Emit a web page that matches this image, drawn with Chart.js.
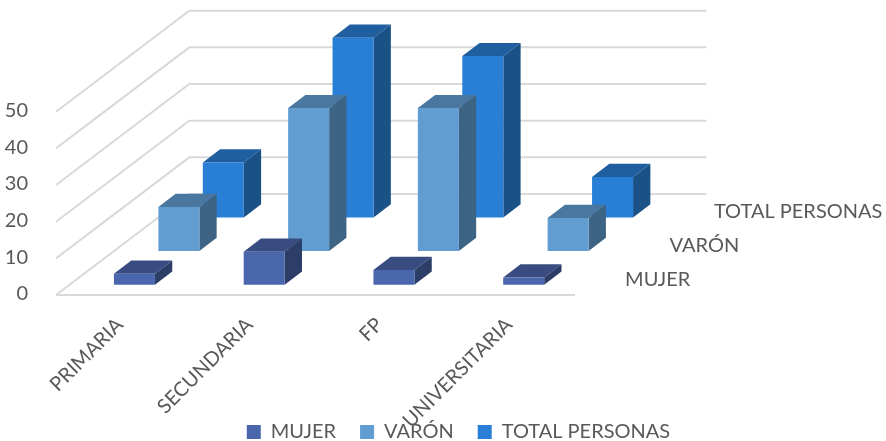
<!DOCTYPE html>
<html>
<head>
<meta charset="utf-8">
<style>
  html, body { margin: 0; padding: 0; background: #fff; }
  #wrap { width: 886px; height: 441px; }
</style>
<script src="https://cdn.jsdelivr.net/npm/chart.js@4"></script>
</head>
<body>
<div id="wrap"><canvas id="grafico" width="886" height="441"></canvas></div>
<script>
const categorias = ['PRIMARIA', 'SECUNDARIA', 'FP', 'UNIVERSITARIA'];
const mujer = [3, 9, 4, 2];
const varon = [12, 39, 39, 9];
const total = [15, 49, 44, 11];
const series = ['MUJER', 'VARÓN', 'TOTAL PERSONAS'];
const ticksY = [0, 10, 20, 30, 40, 50];

const frente = ['#4A66AC', '#629DD1', '#297FD5'];
const arriba = ['#384C81', '#4A779F', '#1F5FA0'];
const lado = ['#2C3D67', '#3E6485', '#1A5287'];

// profundidad del falso 3D
const fondoX = 133.3, fondoY = 101;
const hueco = fondoX / 3;
const cajaX = 17.3, cajaY = 13.2;
const desp = i => {
  const dx = hueco * i + (hueco - cajaX) / 2;
  return { dx, dy: -dx * fondoY / fondoX };
};

const tres = {
  id: 'tres',
  beforeDatasetsDraw(chart) {
    const { ctx, chartArea: a, scales: { y } } = chart;
    ctx.save();
    ctx.strokeStyle = '#D9D9D9';
    ctx.lineWidth = 2;
    ctx.beginPath();
    ticksY.forEach(t => {
      const py = y.getPixelForValue(t);
      ctx.moveTo(a.left, py);
      ctx.lineTo(a.left + fondoX, py - fondoY);
      ctx.lineTo(a.right + fondoX - 2, py - fondoY);
    });
    const py0 = y.getPixelForValue(0);
    ctx.moveTo(a.left, py0);
    ctx.lineTo(a.right, py0);
    ctx.stroke();
    ctx.restore();
  },
  beforeDatasetDraw(chart, args) {
    const { ctx } = chart;
    const i = args.index;
    const d = desp(i);
    ctx.save();
    ctx.translate(d.dx, d.dy);
    args.meta.data.forEach(bar => {
      const { x, y, base, width } = bar.getProps(['x', 'y', 'base', 'width']);
      const r = x + width / 2, l = x - width / 2;
      ctx.fillStyle = arriba[i];
      ctx.beginPath();
      ctx.moveTo(l, y);
      ctx.lineTo(l + cajaX, y - cajaY);
      ctx.lineTo(r + cajaX, y - cajaY);
      ctx.lineTo(r, y);
      ctx.closePath();
      ctx.fill();
      ctx.fillStyle = lado[i];
      ctx.beginPath();
      ctx.moveTo(r, y);
      ctx.lineTo(r + cajaX, y - cajaY);
      ctx.lineTo(r + cajaX, base - cajaY);
      ctx.lineTo(r, base);
      ctx.closePath();
      ctx.fill();
    });
  },
  afterDatasetDraw(chart) {
    chart.ctx.restore();
  },
  afterDatasetsDraw(chart) {
    const { ctx, chartArea: a, scales: { y } } = chart;
    ctx.save();
    ctx.fillStyle = '#595959';
    ctx.font = '20px Lato';
    ctx.textAlign = 'left';
    ctx.textBaseline = 'middle';
    series.forEach((s, i) => {
      const d = desp(i);
      ctx.fillText(s, a.right + d.dx + 36.5, y.getPixelForValue(0) + d.dy - 5.5);
    });
    ctx.restore();
  },
  afterLayout(chart) {
    // la leyenda va abajo y centrada respecto al lienzo
    chart.legend.top += 11;
    chart.legend.bottom += 11;
    chart.legend.left += 156;
    chart.legend.right += 156;
    // que los textos de los ejes no se recorten
    chart.scales.x.bottom = chart.height;
    chart.scales.y.left = 0;
  }
};

Chart.defaults.font.family = 'Lato';
Chart.defaults.font.size = 20;
Chart.defaults.color = '#595959';

new Chart(document.getElementById('grafico').getContext('2d'), {
  type: 'bar',
  data: {
    labels: categorias,
    datasets: [
      { label: series[0], data: mujer, backgroundColor: frente[0], order: 1 },
      { label: series[1], data: varon, backgroundColor: frente[1], order: 2 },
      { label: series[2], data: total, backgroundColor: frente[2], order: 3 }
    ]
  },
  options: {
    responsive: false,
    animation: false,
    layout: { padding: { left: 30, top: 111.7, right: 311, bottom: 0 } },
    datasets: { bar: { grouped: false, barPercentage: 0.316, categoryPercentage: 1, clip: false } },
    scales: {
      x: {
        grid: { display: false },
        border: { display: false },
        ticks: { minRotation: 45, maxRotation: 45, autoSkip: false, padding: 10, labelOffset: -1 },
        afterFit: s => { s.height = 92; }
      },
      y: {
        min: 0,
        max: 50,
        afterBuildTicks: s => { s.ticks = ticksY.map(v => ({ value: v })); },
        grid: { display: false },
        border: { display: false },
        ticks: { padding: 20, labelOffset: -1 },
        afterFit: s => { s.width = 26; }
      }
    },
    plugins: {
      legend: {
        position: 'bottom',
        labels: { boxWidth: 14, boxHeight: 14, padding: 24, font: { size: 20 } }
      },
      tooltip: { enabled: false }
    }
  },
  plugins: [tres]
});
</script>
</body>
</html>
